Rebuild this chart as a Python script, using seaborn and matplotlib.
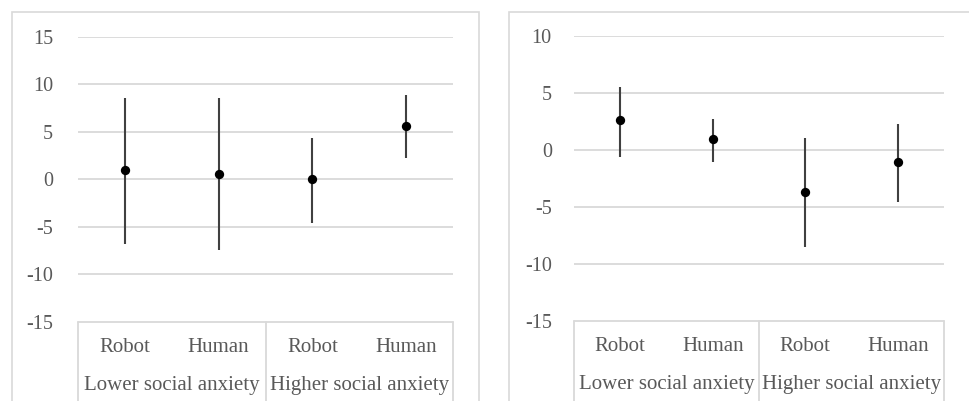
import numpy as np
import pandas as pd
import seaborn as sns
import matplotlib.pyplot as plt
from matplotlib.patches import Rectangle

# categories
conditions = ["Robot", "Human", "Robot", "Human"]
groups = ["Lower social anxiety", "Higher social anxiety"]

# left panel: mean with interval
left_mean = [0.95, 0.55, 0.0, 5.6]
left_upper = [8.5, 8.5, 4.3, 8.9]
left_lower = [-6.85, -7.5, -4.6, 2.25]

# right panel
right_mean = [2.6, 0.95, -3.7, -1.1]
right_upper = [5.5, 2.75, 1.05, 2.3]
right_lower = [-0.6, -1.1, -8.55, -4.6]

sns.set_theme(style="white")
plt.rcParams['font.family'] = ['Liberation Serif', 'DejaVu Serif']

W, H = 970, 401
fig = plt.figure(figsize=(W / 100, H / 100), dpi=100)

grid_col = "#d9d9d9"
text_col = "#595959"


def px(x0, y0, x1, y1):
    # pixel box -> figure fraction [left, bottom, width, height]
    return [x0 / W, 1 - y1 / H, (x1 - x0) / W, (y1 - y0) / H]


# chart borders
fig.patches.append(Rectangle((12 / W, -0.1), (479 - 12) / W, 1.1 - 12 / H,
                             transform=fig.transFigure, fill=False,
                             edgecolor=grid_col, lw=1.2))
fig.patches.append(Rectangle((509 / W, -0.1), 0.6, 1.1 - 12 / H,
                             transform=fig.transFigure, fill=False,
                             edgecolor=grid_col, lw=1.2))


def panel(rect, mean, lower, upper, ylim, ticks, pad):
    ax = fig.add_axes(rect)
    df = pd.DataFrame({"pos": np.arange(len(conditions)), "mean": mean,
                       "lower": lower, "upper": upper})
    for t in ticks[1:]:
        ax.axhline(t, color=grid_col, lw=1.3, zorder=0)
    ax.vlines(df["pos"], df["lower"], df["upper"], color="#404040", lw=1.5, zorder=2)
    sns.scatterplot(data=df, x="pos", y="mean", ax=ax, color="black", s=45,
                    edgecolor="black", linewidth=0, zorder=3, legend=False)
    ax.set_xlim(-0.5, 3.5)
    ax.set_ylim(*ylim)
    ax.set_yticks(ticks)
    ax.set_yticklabels([str(t) for t in ticks], color=text_col, fontsize=14.5)
    ax.tick_params(axis="y", length=0, pad=pad)
    ax.set_xticks([])
    ax.set_xlabel("")
    ax.set_ylabel("")
    for s in ax.spines.values():
        s.set_visible(False)
    # category table under the plot
    ax.plot([-0.5, 3.5], [ylim[0], ylim[0]], color=grid_col, lw=1.3, clip_on=False)
    trans = ax.get_xaxis_transform()
    for xv in [-0.5, 1.5, 3.5]:
        ax.plot([xv, xv], [0, -0.5], color=grid_col, lw=1.3,
                transform=trans, clip_on=False)
    h_ax = rect[3] * H  # axes height in px
    for i, c in enumerate(conditions):
        ax.text(i, -(347 - 321) / h_ax, c, transform=trans, ha="center",
                va="center", color=text_col, fontsize=15)
    for j, g in enumerate(groups):
        ax.text(0.5 + 2 * j, -(385 - 321) / h_ax, g, transform=trans,
                ha="center", va="center", color=text_col, fontsize=15)
    return ax


panel(px(78, 36.7, 453, 321.7), left_mean, left_lower, left_upper,
      (-15, 15), [-15, -10, -5, 0, 5, 10, 15], 18)
panel(px(574, 36, 944, 320.7), right_mean, right_lower, right_upper,
      (-15, 10), [-15, -10, -5, 0, 5, 10], 16)

fig.savefig("out.png", dpi=100)
